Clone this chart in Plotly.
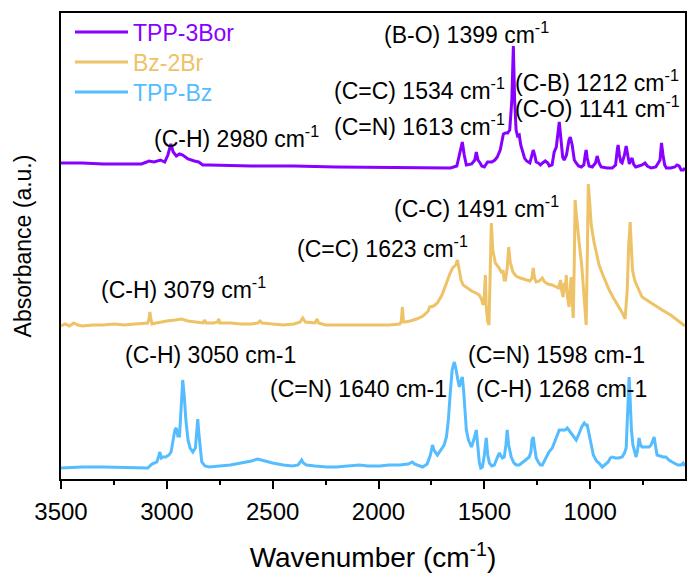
import plotly.graph_objects as go

# ---------------- data (wavenumber cm-1, stacked absorbance a.u.) ----------------
tpp3bor_wn = [3500, 3400, 3300, 3200, 3120, 3095, 3085, 3060, 3040, 3030, 3010, 2995, 2981, 2970, 2955,
              2940, 2925, 2900, 2870, 2850, 2830, 2800, 2600, 2400, 2200, 2000, 1800, 1660, 1630, 1615,
              1604, 1595, 1585, 1560, 1545, 1538, 1530, 1520, 1512, 1500, 1485, 1465, 1450, 1439, 1425,
              1410, 1400, 1390, 1380, 1370, 1363, 1357, 1350, 1343, 1335, 1328, 1321, 1310, 1300, 1285,
              1275, 1269, 1262, 1255, 1245, 1235, 1225, 1212, 1200, 1193, 1180, 1170, 1160, 1150, 1146,
              1140, 1130, 1123, 1112, 1100, 1094, 1085, 1075, 1066, 1055, 1042, 1030, 1022, 1019, 1014,
              1005, 990, 975, 967, 958, 948, 920, 896, 880, 872, 868, 862, 855, 849, 838,
              830, 822, 815, 808, 802, 795, 785, 770, 755, 741, 730, 712, 690, 670, 663,
              656, 648, 640, 620, 600, 590, 580, 570, 560, 552]
tpp3bor_px = [163, 163, 164, 164, 164, 162, 161, 162, 161, 160, 162, 155, 144, 152, 156,
              154, 155, 159, 161, 162, 165, 165, 166, 166, 167, 167.5, 168, 168, 166, 152,
              142, 155, 165, 164, 160, 152, 160, 163, 166, 167, 162, 162, 160, 157, 150,
              134, 133, 133, 130, 100, 46, 100, 130, 136, 135, 145, 150, 158, 161, 163,
              155, 150, 155, 162, 163, 165, 163, 161, 163, 166, 165, 152, 147, 130, 122,
              135, 157, 160, 155, 140, 137, 145, 160, 163, 166, 167, 165, 153, 150, 158,
              166, 167, 163, 156, 163, 167, 168, 168, 165, 150, 145, 155, 162, 163, 155,
              146, 158, 164, 160, 158, 164, 167, 166, 165, 163, 166, 168, 167, 160, 143,
              155, 165, 168, 168, 167, 165, 166, 170, 170, 168]

bz2br_wn = [3500, 3480, 3460, 3440, 3420, 3400, 3350, 3300, 3250, 3200, 3150, 3110, 3090, 3084, 3080,
            3076, 3070, 3050, 3030, 3000, 2960, 2930, 2900, 2870, 2850, 2830, 2821, 2815, 2780, 2760,
            2755, 2750, 2700, 2650, 2600, 2570, 2561, 2550, 2500, 2450, 2400, 2370, 2358, 2345, 2300,
            2290, 2283, 2250, 2200, 2100, 2000, 1950, 1900, 1893, 1887, 1882, 1875, 1850, 1820, 1790,
            1765, 1759, 1740, 1722, 1700, 1680, 1665, 1650, 1635, 1627, 1620, 1610, 1600, 1580, 1560,
            1540, 1524, 1512, 1506, 1500, 1495, 1491, 1484, 1478, 1472, 1467, 1460, 1448, 1430, 1418,
            1412, 1406, 1400, 1392, 1385, 1378, 1365, 1350, 1330, 1310, 1302, 1285, 1275, 1269, 1263,
            1255, 1240, 1226, 1215, 1200, 1180, 1160, 1150, 1146, 1140, 1135, 1128, 1122, 1118, 1113,
            1108, 1100, 1094, 1090, 1085, 1080, 1075, 1071, 1065, 1058, 1052, 1040, 1030, 1025, 1019,
            1013, 1009, 1003, 995, 981, 970, 958, 940, 925, 910, 890, 875, 863, 848, 835,
            825, 818, 811, 806, 800, 790, 783, 770, 755, 720, 690, 660, 620, 590, 560, 552]
bz2br_px = [326, 324, 326, 323, 325, 326, 325, 325, 324, 325, 324, 323, 323, 318, 312,
            318, 324, 323, 322, 321, 320, 319, 321, 322, 323, 323, 320, 323, 323, 322,
            319, 323, 323, 324, 324, 323, 321, 323, 324, 325, 324, 322, 318, 322, 323,
            319, 323, 325, 325, 325, 325, 325, 324, 322, 307, 322, 322, 321, 319, 316,
            311, 307, 306, 303, 295, 283, 275, 268, 265, 260, 270, 280, 285, 288, 291,
            293, 295, 300, 305, 295, 275, 307, 322, 325, 270, 223, 250, 263, 268, 273,
            270, 280, 280, 268, 247, 262, 272, 276, 278, 279, 280, 281, 278, 268, 278,
            282, 281, 278, 282, 284, 285, 287, 288, 285, 280, 290, 297, 283, 292, 275,
            295, 307, 285, 277, 300, 318, 260, 200, 215, 235, 243, 265, 290, 310, 325,
            250, 184, 200, 225, 243, 255, 265, 275, 283, 290, 298, 303, 307, 313, 319,
            290, 245, 222, 245, 270, 280, 283, 290, 297, 302, 306, 310, 315, 320, 325, 326]

tppbz_wn = [3500, 3400, 3300, 3200, 3150, 3100, 3090, 3070, 3055, 3047, 3038, 3033, 3026, 3019, 3005,
            2990, 2980, 2970, 2962, 2955, 2948, 2940, 2932, 2925, 2918, 2910, 2900, 2890, 2877, 2865,
            2860, 2854, 2848, 2840, 2835, 2820, 2800, 2750, 2700, 2650, 2600, 2571, 2540, 2500, 2450,
            2406, 2380, 2370, 2363, 2355, 2340, 2300, 2245, 2200, 2150, 2090, 2050, 1995, 1950, 1900,
            1860, 1840, 1830, 1810, 1792, 1770, 1755, 1745, 1738, 1722, 1700, 1690, 1679, 1670, 1660,
            1652, 1642, 1635, 1625, 1618, 1610, 1604, 1598, 1590, 1585, 1575, 1561, 1550, 1538, 1530,
            1524, 1517, 1509, 1500, 1491, 1484, 1476, 1465, 1453, 1440, 1429, 1415, 1406, 1398, 1392,
            1385, 1373, 1360, 1349, 1335, 1321, 1305, 1288, 1280, 1275, 1269, 1262, 1255, 1245, 1235,
            1226, 1210, 1195, 1179, 1165, 1152, 1146, 1130, 1118, 1108, 1095, 1080, 1066, 1055, 1040,
            1028, 1020, 1014, 1005, 995, 985, 970, 958, 943, 930, 915, 905, 896, 880, 865,
            849, 838, 830, 824, 818, 816, 812, 805, 798, 792, 783, 776, 769, 762, 755,
            740, 722, 712, 704, 698, 692, 684, 670, 655, 642, 628, 613, 595, 585, 571,
            565, 561, 552]
tppbz_px = [468, 467, 467, 467.5, 467, 468, 468, 464, 463, 462, 456, 452, 458, 457, 457,
            455, 452, 440, 430, 428, 436, 436, 410, 380, 395, 420, 440, 448, 452, 448,
            435, 419, 435, 455, 462, 466, 467, 466, 465, 463, 461, 459, 461, 463, 465,
            466, 465, 462, 460, 463, 465, 466, 467, 467, 466, 465, 466, 466, 465, 465,
            464, 462, 464, 466, 467, 464, 455, 445, 450, 455, 448, 445, 437, 420, 390,
            370, 362, 368, 380, 387, 380, 377, 390, 415, 430, 440, 447, 440, 430, 448,
            462, 468, 467, 455, 438, 455, 463, 466, 465, 458, 453, 458, 457, 445, 430,
            445, 457, 463, 465, 465, 463, 460, 457, 452, 440, 437, 448, 458, 462, 465,
            465, 458, 452, 448, 440, 432, 430, 430, 430, 428, 432, 437, 440, 435, 427,
            423, 425, 425, 435, 447, 455, 461, 463, 467, 465, 462, 458, 457, 458, 458,
            457, 453, 448, 420, 385, 377, 395, 430, 445, 450, 457, 450, 438, 445, 447,
            447, 447, 445, 440, 437, 445, 455, 456, 457, 457, 460, 462, 464, 465, 465,
            464, 463, 466]

BASE = 479  # stacked values expressed as height above the frame bottom
tpp3bor_y = [BASE - v for v in tpp3bor_px]
bz2br_y = [BASE - v for v in bz2br_px]
tppbz_y = [BASE - v for v in tppbz_px]

series_names = ["TPP-3Bor", "Bz-2Br", "TPP-Bz"]
series_colors = ["#8800FF", "#EEC266", "#55BDFF"]

# peak labels: text, anchor wavenumber (left edge), height
label_text = ["(C-H) 2980 cm<sup>-1</sup>", "(C=C) 1534 cm<sup>-1</sup>", "(C=N) 1613 cm<sup>-1</sup>",
              "(B-O) 1399 cm<sup>-1</sup>", "(C-B) 1212 cm<sup>-1</sup>", "(C-O) 1141 cm<sup>-1</sup>",
              "(C-C) 1491 cm<sup>-1</sup>", "(C=C) 1623 cm<sup>-1</sup>", "(C-H) 3079 cm<sup>-1</sup>",
              "(C-H) 3050 cm-1", "(C=N) 1640 cm-1", "(C=N) 1598 cm-1", "(C-H) 1268 cm-1"]
label_x = [3070, 2219, 2219, 1983, 1364, 1364, 1936, 2394, 3320, 3207, 2522, 1586, 1548]
label_y = [342, 390, 354, 446, 398, 372, 272, 232, 191, 124, 90, 124, 90]

FONT = "Liberation Sans, Arial, sans-serif"

fig = go.Figure()
legend_ids = ["legend", "legend2", "legend3"]
for wn, yv, nm, col, lg in zip([tpp3bor_wn, bz2br_wn, tppbz_wn], [tpp3bor_y, bz2br_y, tppbz_y],
                               series_names, series_colors, legend_ids):
    fig.add_trace(go.Scatter(x=wn, y=yv, mode="lines", line=dict(color=col, width=3),
                             name=f'<span style="color:{col}">{nm}</span>', legend=lg))

for t, x, y in zip(label_text, label_x, label_y):
    fig.add_annotation(x=x, y=y, xref="x", yref="y", text=t, showarrow=False,
                       xanchor="left", yanchor="middle", font=dict(size=23, color="black", family=FONT))

legend_style = dict(x=0.0144, xanchor="left", yanchor="top", bgcolor="rgba(0,0,0,0)",
                    font=dict(size=23, family=FONT), itemwidth=53)
fig.update_layout(
    width=687, height=574,
    margin=dict(l=61, r=2, t=13, b=95),
    paper_bgcolor="white", plot_bgcolor="white",
    font=dict(family=FONT, color="black"),
    showlegend=True,
    legend=dict(y=1.005, **legend_style),
    legend2=dict(y=1.005 - 30 / 466, **legend_style),
    legend3=dict(y=1.005 - 60 / 466, **legend_style),
)
fig.update_xaxes(range=[3500, 552], showgrid=False, zeroline=False, automargin=False,
                 showline=True, linecolor="black", linewidth=2, mirror=True,
                 ticks="outside", ticklen=8, tickwidth=2, tickcolor="black",
                 dtick=500, tick0=0, tickfont=dict(size=24, family=FONT), ticklabelstandoff=2,
                 minor=dict(ticks="outside", ticklen=4, tickwidth=2, dtick=250, tick0=0, tickcolor="black"),
                 title=dict(text="Wavenumber (cm<sup>-1</sup>)", font=dict(size=28, family=FONT), standoff=24))
fig.update_yaxes(range=[0, 466], showgrid=False, zeroline=False, showticklabels=False, ticks="",
                 automargin=False,
                 showline=True, linecolor="black", linewidth=2, mirror=True,
                 title=dict(text="Absorbance (a.u.)", font=dict(size=23, family=FONT), standoff=21))

fig.write_html("out.html", config={"displayModeBar": False},
               post_script="document.body.style.margin='0';")
